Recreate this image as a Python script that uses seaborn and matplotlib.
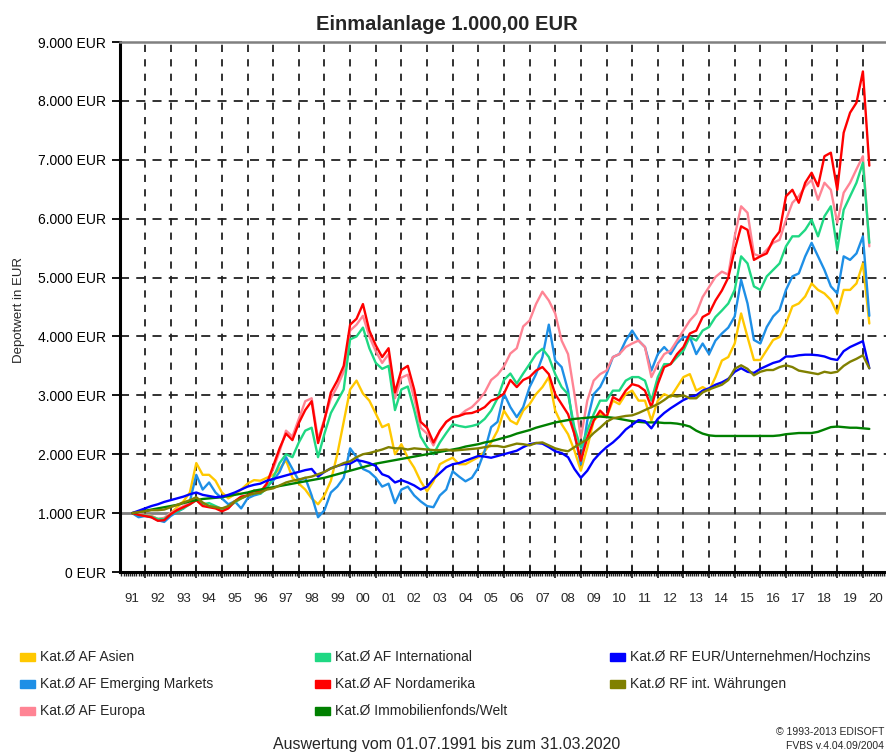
import numpy as np
import pandas as pd
import seaborn as sns
import matplotlib.pyplot as plt
from matplotlib.patches import Rectangle
from matplotlib.ticker import FuncFormatter, MultipleLocator

# Quartalswerte (in Tsd. EUR), 01.07.1991 bis 31.03.2020
start_year = 1991.5
quarter = 0.25

asien = [
    1.00, 0.95,
    0.97, 0.95, 0.90, 0.90,
    1.00, 1.10, 1.20, 1.35,
    1.85, 1.65, 1.65, 1.55,
    1.35, 1.25, 1.32, 1.40,
    1.50, 1.56, 1.55, 1.60,
    1.65, 1.75, 1.90, 1.60,
    1.50, 1.40, 1.25, 1.15,
    1.30, 1.55, 2.00, 2.55,
    3.10, 3.25, 3.03, 2.91,
    2.69, 2.46, 2.51, 2.00,
    2.17, 1.94, 1.77, 1.54,
    1.37, 1.54, 1.83, 1.89,
    1.94, 1.83, 1.83, 1.89,
    1.95, 2.05, 2.20, 2.40,
    2.74, 2.57, 2.51, 2.74,
    2.85, 3.02, 3.14, 3.31,
    2.74, 2.51, 2.34, 2.06,
    1.72, 2.11, 2.57, 2.68,
    2.63, 2.91, 2.85, 3.02,
    3.08, 2.91, 2.91, 2.57,
    2.91, 3.02, 2.97, 3.14,
    3.31, 3.36, 3.08, 3.14,
    3.08, 3.31, 3.59, 3.65,
    3.88, 4.39, 3.99, 3.60,
    3.60, 3.77, 3.94, 3.99,
    4.22, 4.51, 4.56, 4.68,
    4.90, 4.79, 4.73, 4.62,
    4.39, 4.79, 4.79, 4.90,
    5.24, 4.22,
]

emerging = [
    1.00, 0.93,
    0.95, 0.93, 0.88, 0.85,
    0.95, 1.02, 1.08, 1.20,
    1.65, 1.40, 1.52, 1.35,
    1.25, 1.15, 1.20, 1.08,
    1.25, 1.30, 1.33, 1.45,
    1.55, 1.70, 1.95, 1.75,
    1.55, 1.60, 1.30, 0.93,
    1.05, 1.35, 1.45, 1.60,
    2.10, 1.95, 1.75, 1.70,
    1.60, 1.45, 1.50, 1.17,
    1.40, 1.45, 1.30, 1.20,
    1.12, 1.10, 1.30, 1.40,
    1.71, 1.62, 1.54, 1.60,
    1.77, 2.06, 2.46, 2.55,
    3.03, 2.80, 2.63, 2.80,
    3.14, 3.36, 3.65, 4.20,
    3.59, 3.48, 3.08, 2.34,
    1.83, 2.57, 3.02, 3.14,
    3.36, 3.65, 3.70, 3.93,
    4.10, 3.93, 3.82, 3.42,
    3.70, 3.82, 3.70, 3.88,
    3.99, 3.99, 3.70, 3.88,
    3.70, 3.93, 4.05, 4.15,
    4.34, 4.96, 4.56, 3.94,
    3.88, 4.16, 4.34, 4.45,
    4.79, 5.02, 5.07, 5.36,
    5.59, 5.36, 5.13, 4.85,
    4.73, 5.36, 5.30, 5.41,
    5.70, 4.35,
]

europa = [
    1.00, 0.98,
    0.97, 0.95, 0.90, 0.92,
    1.00, 1.06, 1.12, 1.18,
    1.25, 1.15, 1.12, 1.10,
    1.06, 1.10, 1.20, 1.27,
    1.30, 1.38, 1.37, 1.50,
    1.75, 2.05, 2.40, 2.30,
    2.60, 2.90, 2.95, 2.25,
    2.60, 2.95, 3.15, 3.40,
    4.10, 4.20, 4.35, 4.00,
    3.75, 3.55, 3.70, 2.95,
    3.30, 3.35, 2.95, 2.45,
    2.35, 2.15, 2.40, 2.55,
    2.62, 2.65, 2.74, 2.80,
    2.91, 3.05, 3.26, 3.35,
    3.49, 3.71, 3.80, 4.17,
    4.27, 4.55, 4.76, 4.61,
    4.39, 3.93, 3.70, 3.02,
    2.28, 2.91, 3.25, 3.36,
    3.42, 3.65, 3.70, 3.82,
    3.88, 3.93, 3.82, 3.31,
    3.53, 3.70, 3.76, 3.93,
    4.10, 4.27, 4.39, 4.67,
    4.84, 5.01, 5.10, 5.05,
    5.70, 6.21, 6.10, 5.40,
    5.36, 5.47, 5.59, 5.64,
    5.98, 6.27, 6.38, 6.55,
    6.66, 6.32, 6.61, 6.49,
    5.93, 6.44, 6.61, 6.84,
    7.06, 5.53,
]

international = [
    1.00, 0.97,
    0.96, 0.94, 0.90, 0.90,
    0.98, 1.03, 1.08, 1.15,
    1.22, 1.15, 1.17, 1.12,
    1.07, 1.10, 1.18, 1.25,
    1.30, 1.35, 1.33, 1.42,
    1.60, 1.85, 2.00, 1.95,
    2.20, 2.40, 2.45, 1.95,
    2.35, 2.70, 2.90, 3.10,
    3.95, 4.00, 4.15, 3.80,
    3.55, 3.45, 3.50, 2.75,
    3.10, 3.15, 2.75, 2.30,
    2.12, 2.00, 2.20, 2.36,
    2.51, 2.48, 2.46, 2.48,
    2.51, 2.60, 2.74, 2.95,
    3.26, 3.37, 3.20, 3.37,
    3.53, 3.70, 3.79, 3.65,
    3.36, 3.14, 3.02, 2.45,
    2.11, 2.40, 2.68, 2.91,
    2.91, 3.08, 3.08, 3.25,
    3.31, 3.31, 3.25, 2.91,
    3.31, 3.53, 3.53, 3.65,
    3.76, 3.99, 3.93, 4.10,
    4.16, 4.33, 4.44, 4.56,
    4.79, 5.36, 5.24, 4.85,
    4.79, 5.02, 5.13, 5.24,
    5.53, 5.70, 5.70, 5.81,
    5.98, 5.70, 6.04, 6.21,
    5.47, 6.15, 6.38, 6.61,
    6.95, 5.59,
]

nordamerika = [
    1.00, 0.97,
    0.95, 0.93, 0.87, 0.88,
    0.98, 1.05, 1.10, 1.15,
    1.22, 1.12, 1.10, 1.08,
    1.03, 1.08, 1.20, 1.28,
    1.30, 1.38, 1.35, 1.50,
    1.80, 2.10, 2.35, 2.24,
    2.53, 2.75, 2.90, 2.19,
    2.58, 3.05, 3.25, 3.50,
    4.20, 4.30, 4.55, 4.10,
    3.85, 3.65, 3.80, 3.05,
    3.43, 3.50, 3.10, 2.55,
    2.45, 2.20, 2.40, 2.55,
    2.63, 2.65, 2.69, 2.70,
    2.74, 2.80, 2.91, 2.95,
    3.03, 3.26, 3.14, 3.26,
    3.31, 3.42, 3.48, 3.36,
    3.02, 2.85, 2.68, 2.34,
    1.89, 2.28, 2.57, 2.74,
    2.63, 2.97, 2.91, 3.08,
    3.19, 3.16, 3.08, 2.80,
    3.19, 3.48, 3.53, 3.70,
    3.82, 4.05, 4.10, 4.33,
    4.39, 4.61, 4.78, 5.00,
    5.47, 5.87, 5.81, 5.30,
    5.36, 5.41, 5.64, 5.78,
    6.38, 6.49, 6.27, 6.61,
    6.78, 6.55, 7.06, 7.12,
    6.49, 7.46, 7.80, 7.97,
    8.50, 6.90,
]

immobilien = [
    1.00, 1.02,
    1.04, 1.06, 1.08, 1.10,
    1.12, 1.14, 1.17, 1.20,
    1.22, 1.24, 1.25, 1.26,
    1.27, 1.29, 1.31, 1.33,
    1.35, 1.38, 1.40, 1.42,
    1.44, 1.46, 1.48, 1.50,
    1.52, 1.54, 1.56, 1.58,
    1.60, 1.63, 1.66, 1.69,
    1.72, 1.75, 1.78, 1.81,
    1.84, 1.86, 1.88, 1.90,
    1.92, 1.94, 1.96, 1.98,
    2.00, 2.02, 2.04, 2.06,
    2.08, 2.10, 2.13, 2.15,
    2.17, 2.20, 2.22, 2.25,
    2.28, 2.31, 2.35, 2.38,
    2.41, 2.45, 2.48, 2.51,
    2.54, 2.56, 2.58, 2.60,
    2.61, 2.62, 2.63, 2.64,
    2.63, 2.62, 2.60, 2.58,
    2.56, 2.55, 2.54, 2.54,
    2.54, 2.53, 2.53, 2.52,
    2.50, 2.47, 2.40, 2.35,
    2.32, 2.31, 2.31, 2.31,
    2.31, 2.31, 2.31, 2.31,
    2.31, 2.31, 2.31, 2.32,
    2.34, 2.35, 2.36, 2.36,
    2.36, 2.38, 2.42, 2.46,
    2.47, 2.46, 2.45, 2.45,
    2.44, 2.43,
]

rf_hochzins = [
    1.00, 1.04,
    1.08, 1.12, 1.15, 1.19,
    1.22, 1.25, 1.28, 1.32,
    1.35, 1.31, 1.29, 1.27,
    1.28, 1.31, 1.35, 1.40,
    1.45, 1.48, 1.50, 1.55,
    1.58, 1.61, 1.64, 1.67,
    1.70, 1.73, 1.75, 1.62,
    1.70, 1.76, 1.80, 1.83,
    1.84, 1.90, 1.88, 1.85,
    1.80, 1.66, 1.62, 1.52,
    1.56, 1.52, 1.47, 1.40,
    1.45, 1.58, 1.68, 1.78,
    1.83, 1.85, 1.89, 1.93,
    1.97, 1.96, 1.94, 1.97,
    2.00, 2.03, 2.06, 2.12,
    2.17, 2.19, 2.18, 2.12,
    2.05, 2.02, 1.95, 1.75,
    1.60, 1.72, 1.90, 2.02,
    2.12, 2.20, 2.30, 2.42,
    2.50, 2.58, 2.56, 2.44,
    2.60, 2.70, 2.78, 2.85,
    2.92, 2.97, 3.00, 3.08,
    3.12, 3.18, 3.22, 3.28,
    3.40, 3.46, 3.40, 3.38,
    3.45, 3.50, 3.55, 3.58,
    3.66, 3.66, 3.68, 3.69,
    3.69, 3.68, 3.66, 3.62,
    3.60, 3.75, 3.82, 3.87,
    3.92, 3.46,
]

rf_waehrungen = [
    1.00, 1.02,
    1.03, 1.05, 1.05, 1.06,
    1.10, 1.14, 1.18, 1.22,
    1.27, 1.18, 1.12, 1.10,
    1.08, 1.12, 1.20, 1.25,
    1.30, 1.33, 1.35, 1.40,
    1.42, 1.47, 1.52, 1.55,
    1.57, 1.60, 1.62, 1.66,
    1.70, 1.76, 1.80, 1.85,
    1.88, 1.95, 2.00, 2.02,
    2.05, 2.08, 2.12, 2.10,
    2.10, 2.08, 2.10, 2.09,
    2.08, 2.07, 2.07, 2.08,
    2.06, 2.07, 2.08, 2.09,
    2.10, 2.12, 2.14, 2.14,
    2.12, 2.15, 2.18, 2.17,
    2.15, 2.19, 2.20, 2.15,
    2.10, 2.07, 2.05, 2.12,
    2.19, 2.25, 2.36, 2.45,
    2.55, 2.61, 2.63, 2.65,
    2.66, 2.70, 2.75, 2.80,
    2.85, 2.92, 3.00, 2.98,
    3.00, 2.95, 2.95, 3.05,
    3.10, 3.14, 3.18, 3.26,
    3.45, 3.51, 3.45, 3.34,
    3.40, 3.43, 3.43, 3.48,
    3.51, 3.48, 3.42, 3.40,
    3.38, 3.36, 3.40, 3.38,
    3.40, 3.50, 3.57, 3.62,
    3.68, 3.46,
]

labels = ['Kat.Ø AF Asien', 'Kat.Ø AF Emerging Markets', 'Kat.Ø AF Europa',
          'Kat.Ø AF International', 'Kat.Ø AF Nordamerika', 'Kat.Ø Immobilienfonds/Welt',
          'Kat.Ø RF EUR/Unternehmen/Hochzins', 'Kat.Ø RF int. Währungen']
colors = ['#FFC800', '#1E8FE6', '#FF8494', '#1FD883', '#FF0000', '#008000', '#0000FF', '#808000']
series = [asien, emerging, europa, international, nordamerika, immobilien, rf_hochzins, rf_waehrungen]

year_labels = ['91', '92', '93', '94', '95', '96', '97', '98', '99', '00', '01', '02', '03', '04', '05',
               '06', '07', '08', '09', '10', '11', '12', '13', '14', '15', '16', '17', '18', '19', '20']

rows = []
for name, vals in zip(labels, series):
    for i, v in enumerate(vals):
        rows.append((start_year + i * quarter, v * 1000, name))
df = pd.DataFrame(rows, columns=['Jahr', 'Wert', 'Fonds'])

sns.set_style('white')
plt.rcParams['font.family'] = ['Liberation Sans', 'DejaVu Sans']

W, H = 887, 755
fig = plt.figure(figsize=(W / 100, H / 100), dpi=100)
ax = fig.add_axes([120 / W, 183 / H, 767 / W, 530 / H])

# Gitter
for y in range(2000, 9000, 1000):
    ax.axhline(y, color='#222222', lw=1.3, ls=(0, (5, 4)), zorder=1)
ax.axhline(1000, color='#808080', lw=2, zorder=1)
for yr in range(1992, 2021):
    ax.axvline(yr, color='#222222', lw=1.3, ls=(0, (4, 4)), zorder=1)

sns.lineplot(data=df, x='Jahr', y='Wert', hue='Fonds', hue_order=labels,
             palette=colors, linewidth=1.7, legend=False, estimator=None,
             sort=False, ax=ax, zorder=3)

ax.set_xlim(1991.025, 2020.94)
ax.set_ylim(0, 9000)
ax.set_xlabel('')
ax.set_ylabel('')

ax.yaxis.set_major_locator(MultipleLocator(1000))
ax.yaxis.set_major_formatter(FuncFormatter(lambda v, p: f"{int(v):,} EUR".replace(',', '.')))
ax.tick_params(axis='y', length=6, width=1.3, pad=4, labelsize=10, colors='black', left=True)

ax.xaxis.set_major_locator(MultipleLocator(1))
ax.xaxis.set_minor_locator(MultipleLocator(1 / 12))
ax.tick_params(axis='x', which='major', length=9, width=1.3, direction='inout', labelbottom=False, bottom=True)
ax.tick_params(axis='x', which='minor', length=3, width=1, direction='out', bottom=True)

sec = ax.secondary_xaxis('bottom')
sec.set_xticks([1991.5 + i for i in range(len(year_labels))], labels=year_labels)
sec.tick_params(length=0, pad=15, labelsize=9.5)
sec.spines['bottom'].set_visible(False)

for s in ['left', 'bottom']:
    ax.spines[s].set_color('black')
    ax.spines[s].set_linewidth(2.2)
ax.spines['top'].set_color('#808080')
ax.spines['top'].set_linewidth(1.8)
ax.spines['right'].set_visible(False)

fig.text(447 / W, 1 - 25 / H, 'Einmalanlage 1.000,00 EUR', ha='center', va='center',
         fontsize=14.5, fontweight='bold')
fig.text(19 / W, 1 - 310 / H, 'Depotwert in EUR', ha='center', va='center',
         rotation=90, fontsize=9.5)

# Legende
col_x = [20, 315, 610]
row_y = [657, 684, 711]
for k, (name, c) in enumerate(zip(labels, colors)):
    col, row = divmod(k, 3)
    x0, y0 = col_x[col], row_y[row]
    fig.add_artist(Rectangle((x0 / W, 1 - (y0 + 4) / H), 15 / W, 8 / H,
                             transform=fig.transFigure, color=c))
    fig.text((x0 + 20) / W, 1 - y0 / H, name, ha='left', va='center', fontsize=10)

fig.text(447 / W, 1 - 745 / H, 'Auswertung vom 01.07.1991 bis zum 31.03.2020',
         ha='center', va='center', fontsize=11.5)
fig.text(884 / W, 1 - 732 / H, '© 1993-2013 EDISOFT', ha='right', va='center', fontsize=7.5)
fig.text(884 / W, 1 - 746 / H, 'FVBS v.4.04.09/2004', ha='right', va='center', fontsize=7.5)

fig.savefig('out.png', dpi=100)
